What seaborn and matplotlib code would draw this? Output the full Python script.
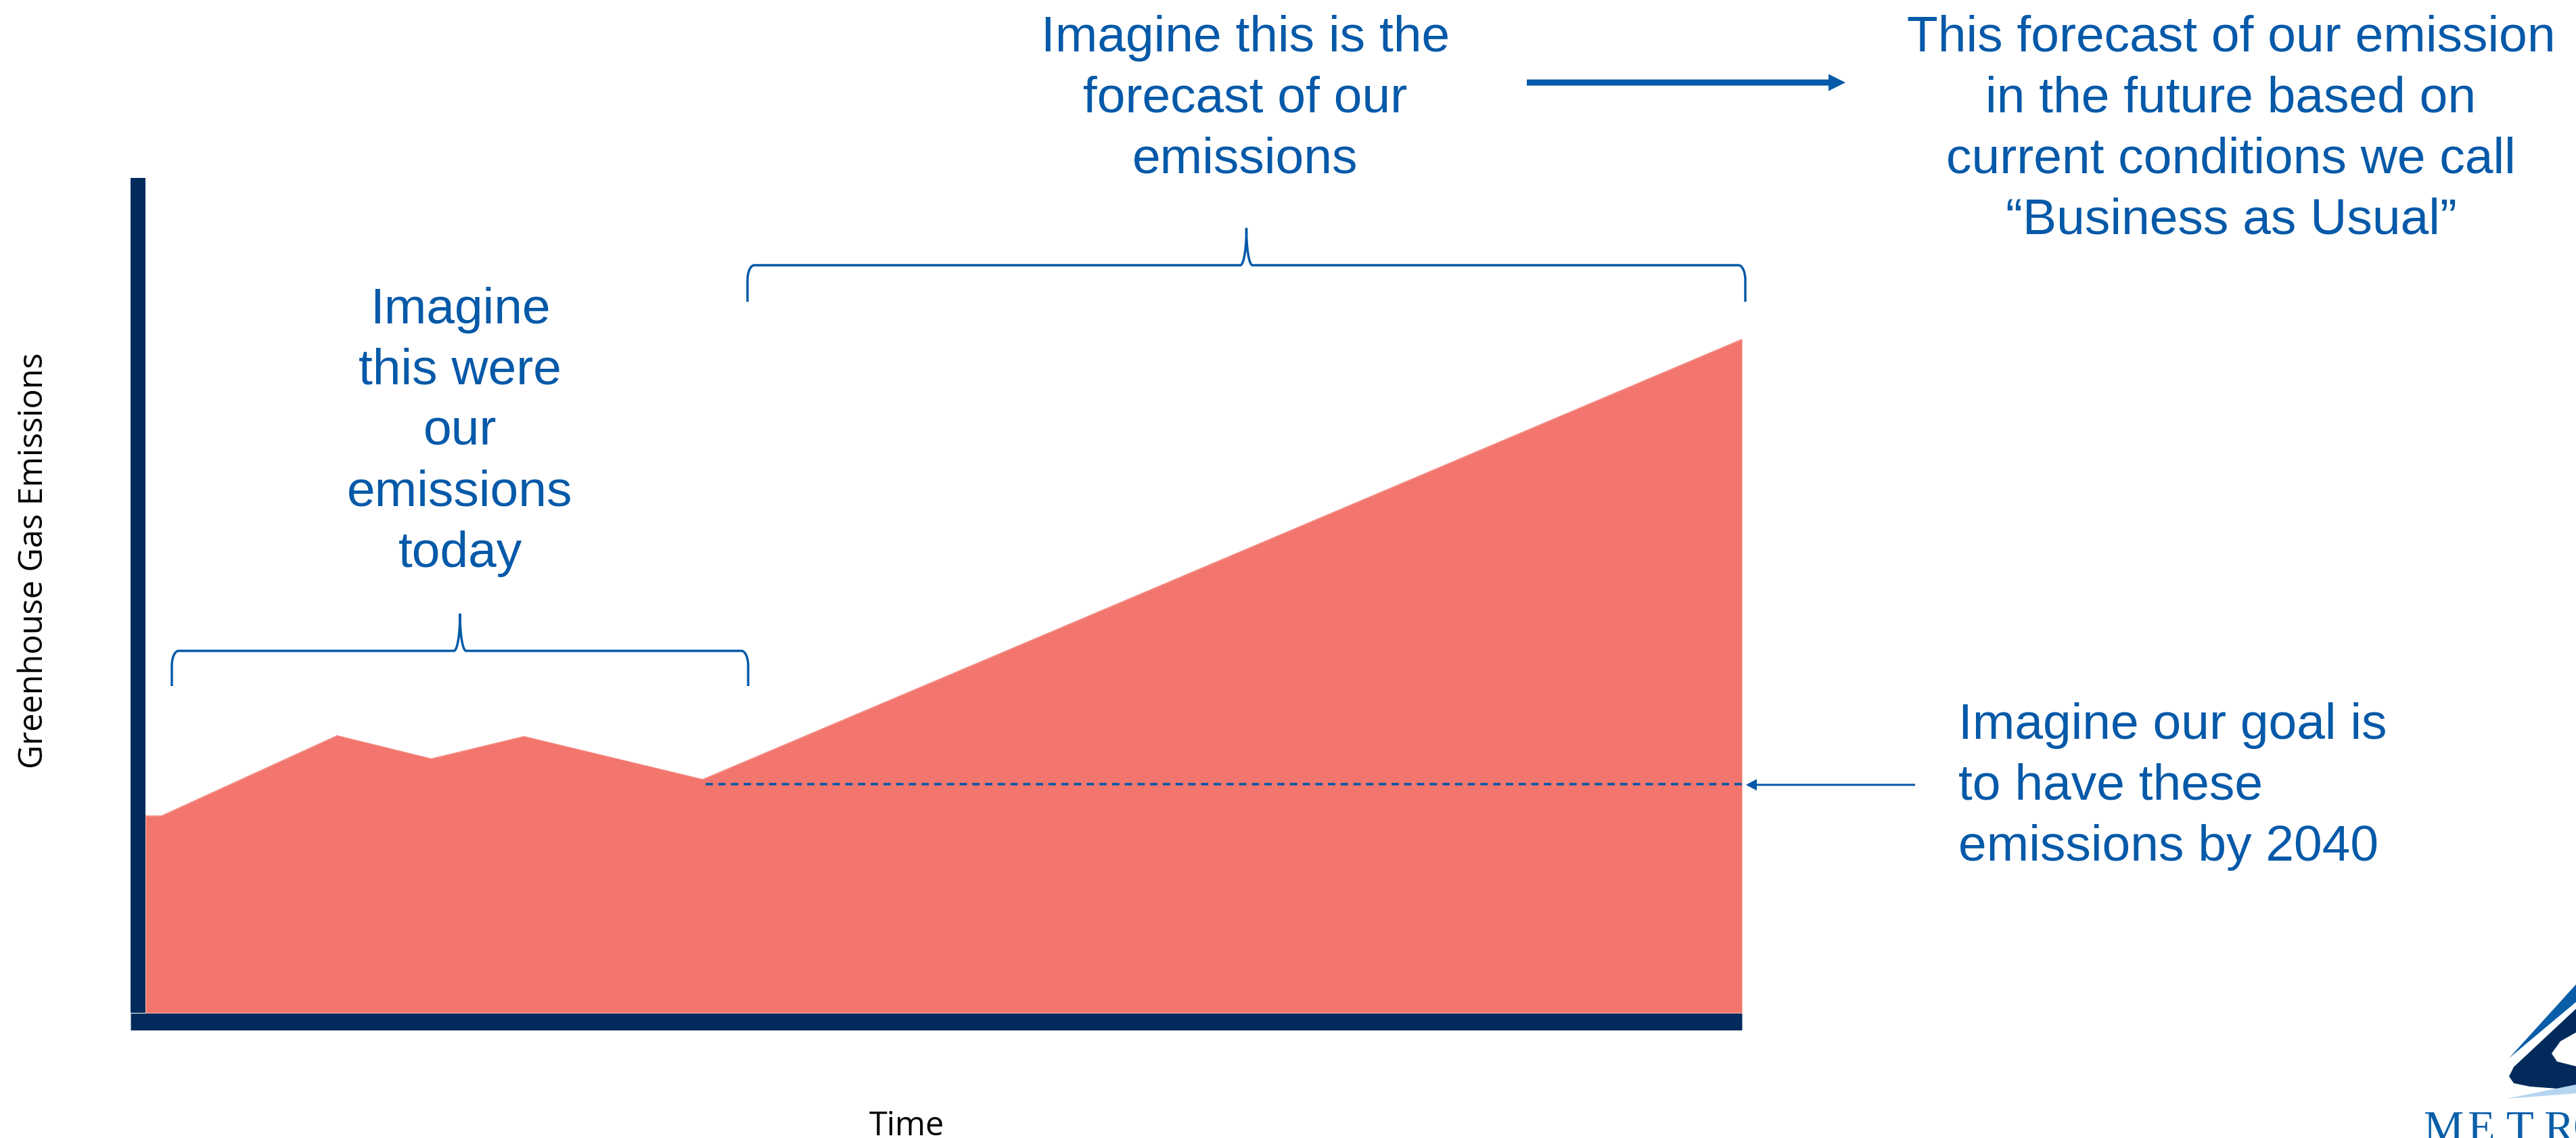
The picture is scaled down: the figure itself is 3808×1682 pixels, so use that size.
import numpy as np
import matplotlib.pyplot as plt
import seaborn as sns
from matplotlib.patches import Polygon

# Donnees du graphique (temps en % de la periode, emissions en unites relatives)
temps = [0.0, 1.0, 12.0, 17.9, 23.7, 34.9, 100.0]
emissions = [23.8, 23.8, 33.5, 30.7, 33.4, 28.2, 81.4]
objectif = 27.6
debut_objectif = 35.1

texte_forecast = ["Imagine this is the", "forecast of our", "emissions"]
texte_bau = ["This forecast of our emission", "in the future based on",
             "current conditions we call", "\u201cBusiness as Usual\u201d"]
texte_today = ["Imagine", "this were", "our", "emissions", "today"]
texte_goal = ["Imagine our goal is", "to have these", "emissions by 2040"]

# Couleurs
ROUGE = "#F2766D"
MARINE = "#022B5C"
BLEU = "#0559A8"

W, H = 3808, 1683
sns.set_theme(style="white")
plt.rcParams["font.family"] = ["Liberation Sans", "DejaVu Sans"]

fig = plt.figure(figsize=(W / 100, H / 100), dpi=100)
fig.patch.set_facecolor("white")

# Zone du graphique principal (en pixels)
x0, x1, y_haut, y_bas = 215, 2575, 275, 1498
ax = fig.add_axes([x0 / W, 1 - y_bas / H, (x1 - x0) / W, (y_bas - y_haut) / H])

sns.lineplot(x=temps, y=emissions, ax=ax, color=ROUGE, linewidth=0.8)
ax.fill_between(temps, emissions, 0, color=ROUGE, linewidth=0)
ax.set_xlim(0, 100)
ax.set_ylim(0, 100)
ax.set_xticks([])
ax.set_yticks([])

# Ligne de l'objectif
ax.hlines(objectif, debut_objectif, 100.25, colors=BLEU, linewidth=2.6,
          linestyles=(0, (3, 2.2)), clip_on=False, zorder=3)

# Axes epais
for cote in ["top", "right"]:
    ax.spines[cote].set_visible(False)
ax.spines["left"].set_position(("outward", 11 * 0.72))
ax.spines["left"].set_linewidth(22 * 0.72)
ax.spines["left"].set_color(MARINE)
ax.spines["left"].set_capstyle("butt")
ax.spines["left"].set_bounds(0, 100 + 11 / (y_bas - y_haut) * 100)
ax.spines["bottom"].set_position(("outward", 12.5 * 0.72))
ax.spines["bottom"].set_linewidth(25 * 0.72)
ax.spines["bottom"].set_color(MARINE)
ax.spines["bottom"].set_capstyle("butt")
ax.spines["bottom"].set_bounds(-22 / (x1 - x0) * 100, 100)

# Titres des axes
ax.set_ylabel("Greenhouse Gas Emissions", fontsize=35, color="black",
              family=["Open Sans", "DejaVu Sans"])
ax.yaxis.label.set_va("center")
ax.yaxis.set_label_coords((50 - x0) / (x1 - x0), (y_bas - 829) / (y_bas - y_haut))
ax.set_xlabel("Time", fontsize=35, color="black", family=["Open Sans", "DejaVu Sans"])
ax.xaxis.label.set_va("baseline")
ax.xaxis.set_label_coords((1340 - x0) / (x1 - x0), (y_bas - 1678) / (y_bas - y_haut))

# Calque d'annotations en pixels
ov = fig.add_axes([0, 0, 1, 1])
ov.set_xlim(0, W)
ov.set_ylim(H, 0)
ov.axis("off")


def lignes(textes, x, y0, ha):
    for i, s in enumerate(textes):
        ov.text(x, y0 + i * 90, s, ha=ha, va="baseline", fontsize=54, color=BLEU)


lignes(texte_forecast, 1841, 76, "center")
lignes(texte_bau, 3298, 76, "center")
lignes(texte_today, 680, 478, "center")
lignes(texte_goal, 2895, 1092, "left")


def accolade(xa, xb, y, h_tip, h_end, rx=10, ry=22, w=9):
    xc = (xa + xb) / 2
    t = np.linspace(0, np.pi / 2, 30)
    xs = [xa] + list(xa + rx - rx * np.cos(t))
    ys = [y + h_end] + list(y + ry - ry * np.sin(t))
    xs += list(xc - w + w * np.sin(t))
    ys += list(y - h_tip + h_tip * np.cos(t))
    xs += list(xc + w - w * np.sin(t[::-1]))
    ys += list(y - h_tip + h_tip * np.cos(t[::-1]))
    xs += list(xb - rx + rx * np.cos(t[::-1])) + [xb]
    ys += list(y + ry - ry * np.sin(t[::-1])) + [y + h_end]
    ov.plot(xs, ys, color=BLEU, linewidth=2.5, solid_capstyle="butt")


accolade(254, 1106, 963, 54, 52)
accolade(1105, 2580, 393, 54, 54)

# Fleches
ov.arrow(2257, 123, 2728 - 2257, 0, width=9, head_width=25, head_length=25,
         length_includes_head=True, color=BLEU, linewidth=0)
ov.arrow(2831, 1161, 2581 - 2831, 0, width=3, head_width=17, head_length=16,
         length_includes_head=True, color=BLEU, linewidth=0)

# Logo (partiel, coin inferieur droit)
ov.add_patch(Polygon([(3709, 1565), (3808, 1456), (3808, 1482)], closed=True,
                     color="#0A5EA8", linewidth=0))
ov.add_patch(Polygon([(3808, 1492), (3716, 1578), (3709, 1592), (3716, 1602),
                      (3740, 1607), (3808, 1612)], closed=True, color=MARINE, linewidth=0))
ov.add_patch(Polygon([(3808, 1527), (3785, 1540), (3772, 1558), (3780, 1570),
                      (3808, 1577)], closed=True, color="white", linewidth=0))
ov.add_patch(Polygon([(3705, 1625), (3808, 1604), (3808, 1617)], closed=True,
                     color="#B5D5F0", linewidth=0))
for lettre, xl in zip("METRO", [3582, 3647, 3705, 3760, 3803]):
    ov.text(xl, 1688, lettre, ha="left", va="baseline", fontsize=48,
            color="#0A5EA8", family=["Liberation Serif", "DejaVu Serif"])

fig.savefig("out.png", dpi=100)
